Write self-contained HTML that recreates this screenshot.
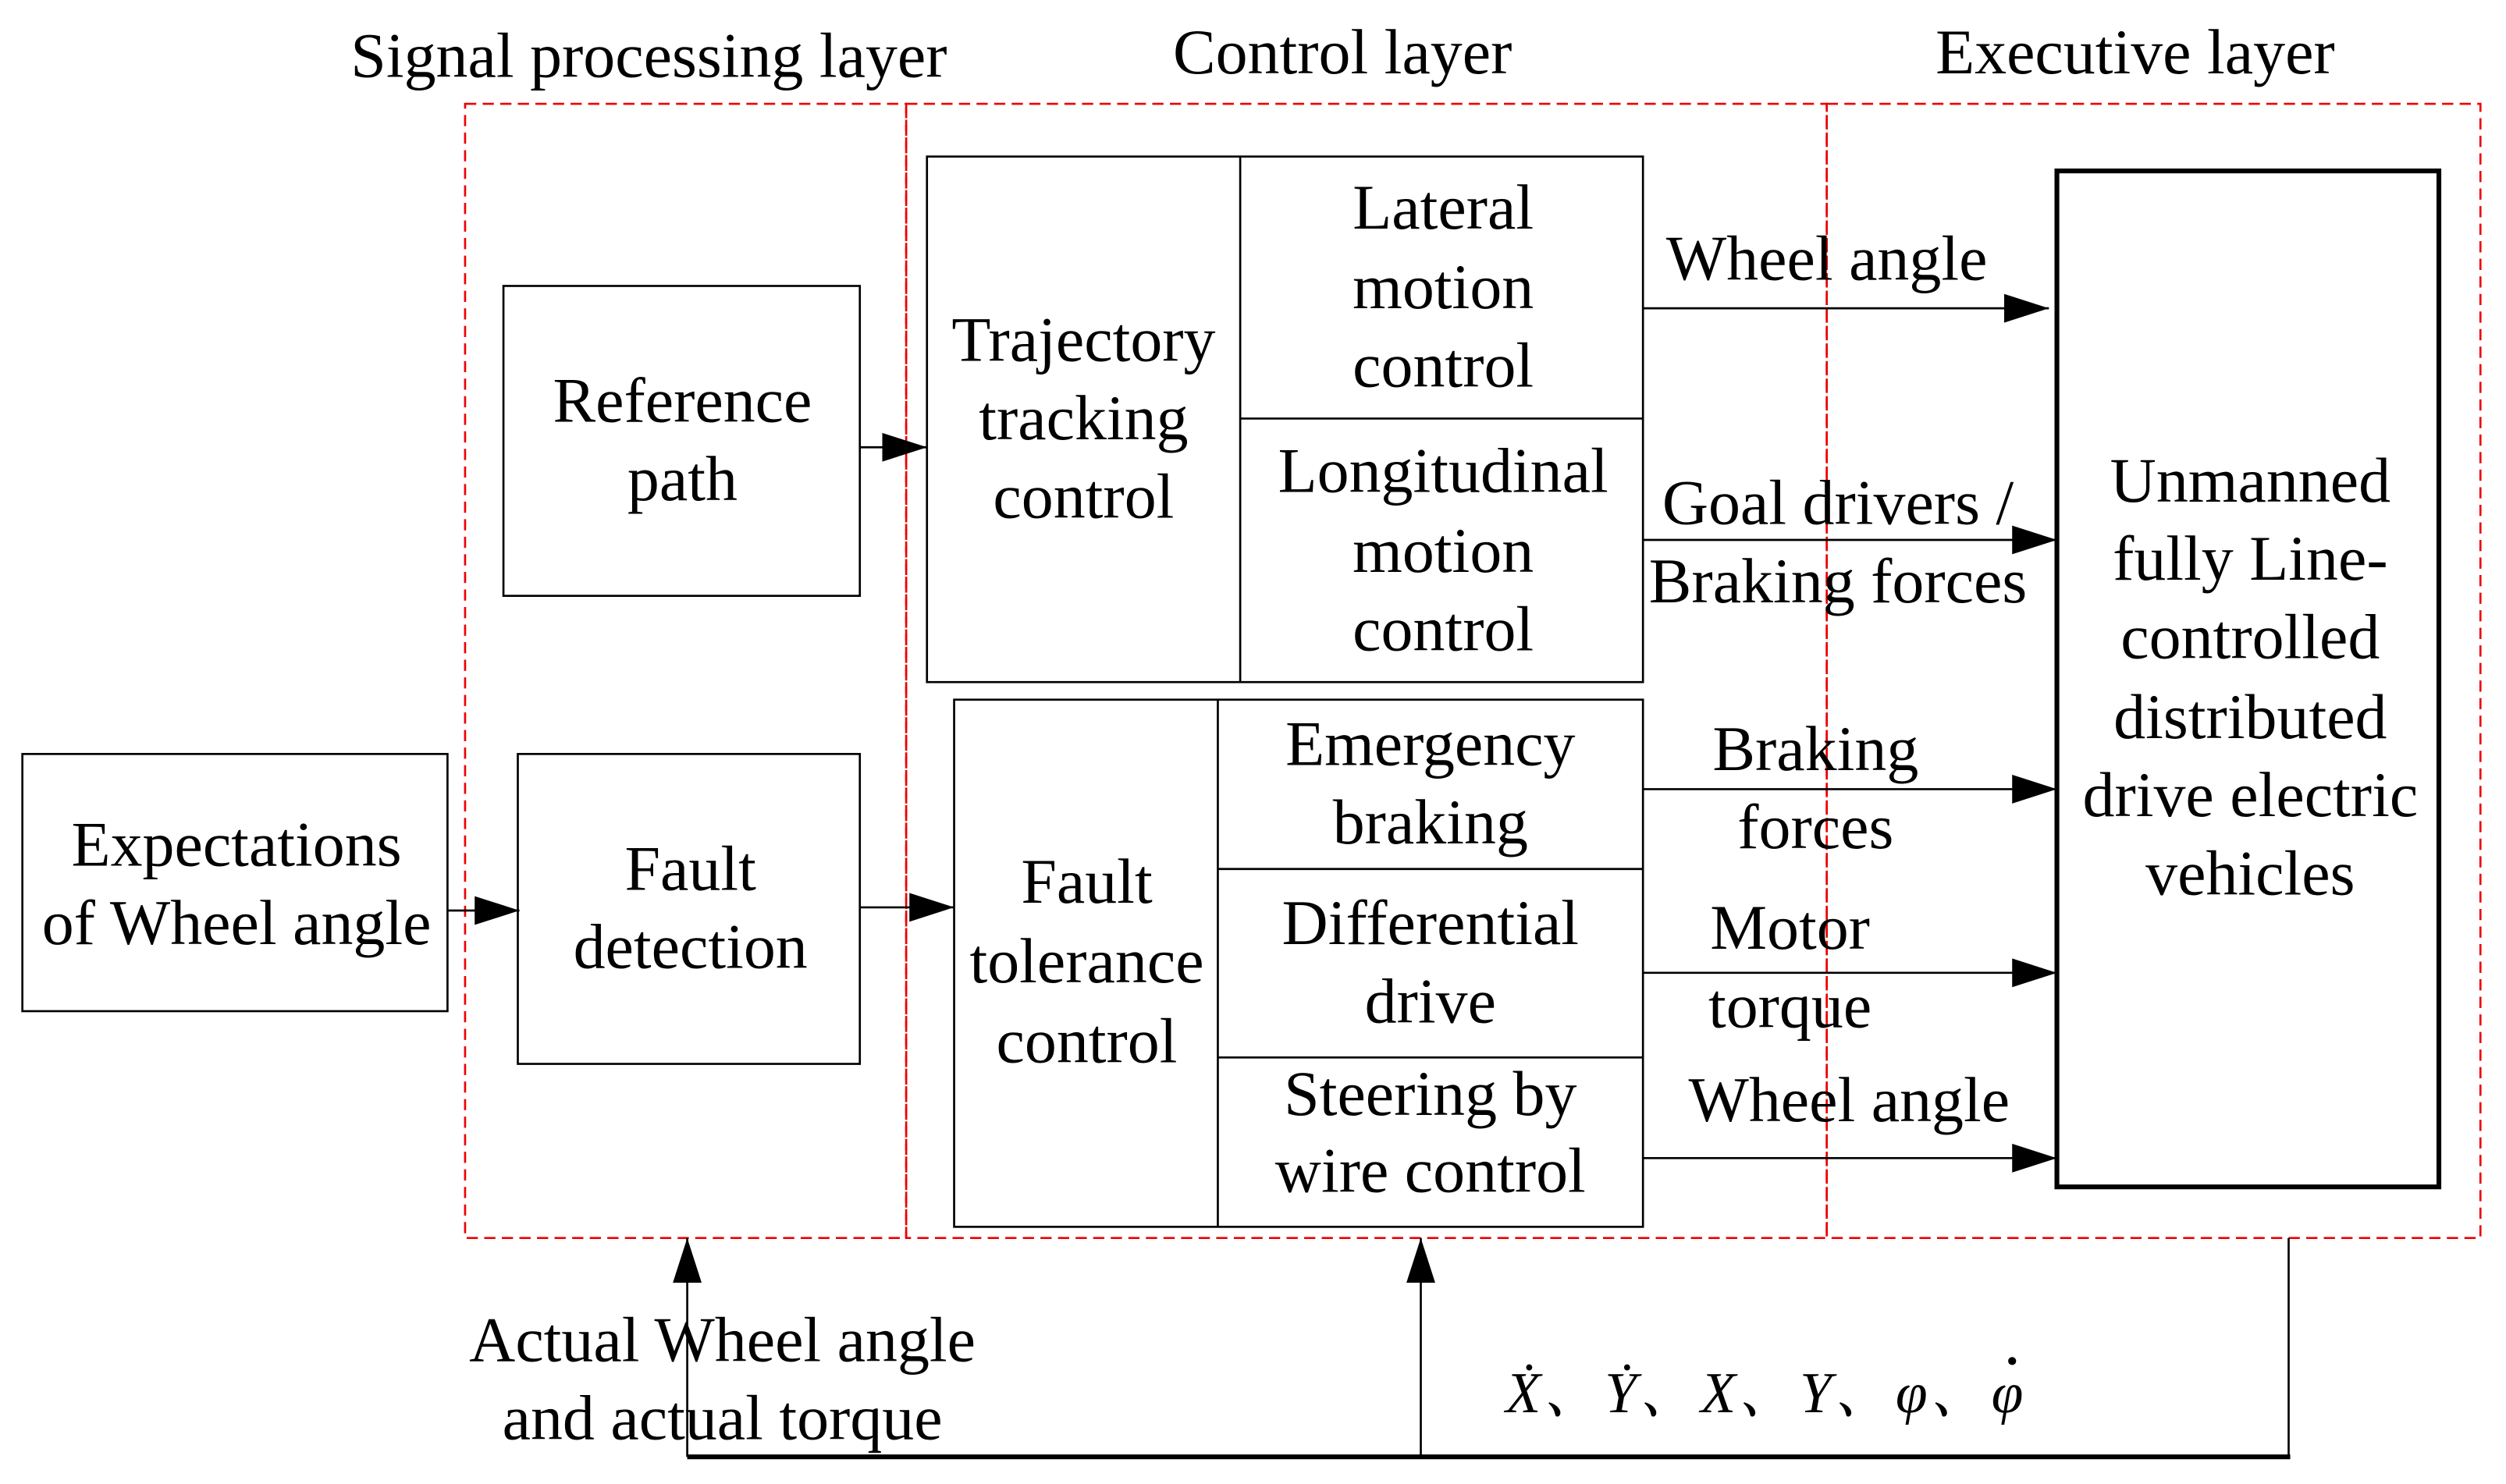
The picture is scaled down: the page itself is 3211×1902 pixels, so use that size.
<!DOCTYPE html>
<html><head><meta charset="utf-8"><style>
html,body{margin:0;padding:0;background:#fff;}
svg{display:block;}
text{font-family:"Liberation Serif","Noto Serif CJK SC",serif;font-size:40px;fill:#000;text-anchor:middle;}
</style></head><body>
<svg width="3211" height="1902" viewBox="0 0 1568 929" preserveAspectRatio="none" xmlns="http://www.w3.org/2000/svg">
<defs>
<marker id="b" viewBox="0 0 28 18" markerWidth="28" markerHeight="18" refX="28" refY="9" orient="auto" markerUnits="userSpaceOnUse"><path d="M0,0 L28,9 L0,18z" fill="#000"/></marker></defs>
<g fill="none" stroke="#e00" stroke-width="1.3" stroke-dasharray="7,4">
<rect x="291" y="65" width="276" height="710"/>
<rect x="567" y="65" width="576" height="710"/>
<rect x="1143" y="65" width="409" height="710"/>
</g>
<text x="406" y="48">Signal processing layer</text>
<text x="840" y="46">Control layer</text>
<text x="1336" y="46">Executive layer</text>
<g fill="none" stroke="#000" stroke-width="1.3">
<rect x="14" y="472" width="266" height="161"/>
<rect x="315" y="179" width="223" height="194"/>
<rect x="324" y="472" width="214" height="194"/>
<rect x="580" y="98" width="448" height="329"/>
<line x1="776" y1="98" x2="776" y2="427"/>
<line x1="776" y1="262" x2="1028" y2="262"/>
<rect x="597" y="438" width="431" height="330"/>
<line x1="762" y1="438" x2="762" y2="768"/>
<line x1="762" y1="544" x2="1028" y2="544"/>
<line x1="762" y1="662" x2="1028" y2="662"/>
<line x1="280" y1="570" x2="325" y2="570" marker-end="url(#b)"/>
<line x1="538" y1="280" x2="580" y2="280" marker-end="url(#b)"/>
<line x1="538" y1="568" x2="597" y2="568" marker-end="url(#b)"/>
<line x1="1028" y1="193" x2="1282" y2="193" marker-end="url(#b)"/>
<line x1="1028" y1="338" x2="1287" y2="338" marker-end="url(#b)"/>
<line x1="1028" y1="494" x2="1287" y2="494" marker-end="url(#b)"/>
<line x1="1028" y1="609" x2="1287" y2="609" marker-end="url(#b)"/>
<line x1="1028" y1="725" x2="1287" y2="725" marker-end="url(#b)"/>
<line x1="1432" y1="775" x2="1432" y2="912"/>
<line x1="430" y1="912" x2="430" y2="775" marker-end="url(#b)"/>
<line x1="889" y1="912" x2="889" y2="775" marker-end="url(#b)"/>
</g>
<line x1="430" y1="912" x2="1433" y2="912" stroke="#000" stroke-width="3"/>
<rect x="1287" y="107" width="239" height="636" fill="none" stroke="#000" stroke-width="3"/>
<text x="148" y="542">Expectations</text><text x="148" y="591">of Wheel angle</text>
<text x="427" y="264">Reference</text><text x="427" y="313">path</text>
<text x="432" y="557">Fault</text><text x="432" y="606">detection</text>
<text x="678" y="226">Trajectory</text><text x="678" y="275">tracking</text><text x="678" y="324">control</text>
<text x="903" y="143">Lateral</text><text x="903" y="193">motion</text><text x="903" y="242">control</text>
<text x="903" y="308">Longitudinal</text><text x="903" y="358">motion</text><text x="903" y="407">control</text>
<text x="680" y="565">Fault</text><text x="680" y="615">tolerance</text><text x="680" y="665">control</text>
<text x="895" y="479">Emergency</text><text x="895" y="528">braking</text>
<text x="895" y="591">Differential</text><text x="895" y="640">drive</text>
<text x="895" y="698">Steering by</text><text x="895" y="746">wire control</text>
<text x="1408" y="314">Unmanned</text><text x="1408" y="363">fully Line-</text><text x="1408" y="412">controlled</text><text x="1408" y="462">distributed</text><text x="1408" y="511">drive electric</text><text x="1408" y="560">vehicles</text>
<text x="1143" y="175">Wheel angle</text>
<text x="1150" y="328">Goal drivers /</text><text x="1150" y="377">Braking forces</text>
<text x="1136" y="482">Braking</text><text x="1136" y="531">forces</text>
<text x="1120" y="594">Motor</text><text x="1120" y="643">torque</text>
<text x="1157" y="702">Wheel angle</text>
<text x="1105" y="884" style="font-style:italic;font-size:36px;letter-spacing:2px">Ẋ、Ẏ、X、Y、φ、φ</text>
<circle cx="1259" cy="852" r="2.5" fill="#000"/>
<text x="452" y="852">Actual Wheel angle</text><text x="452" y="901">and actual torque</text>
</svg>
</body></html>
